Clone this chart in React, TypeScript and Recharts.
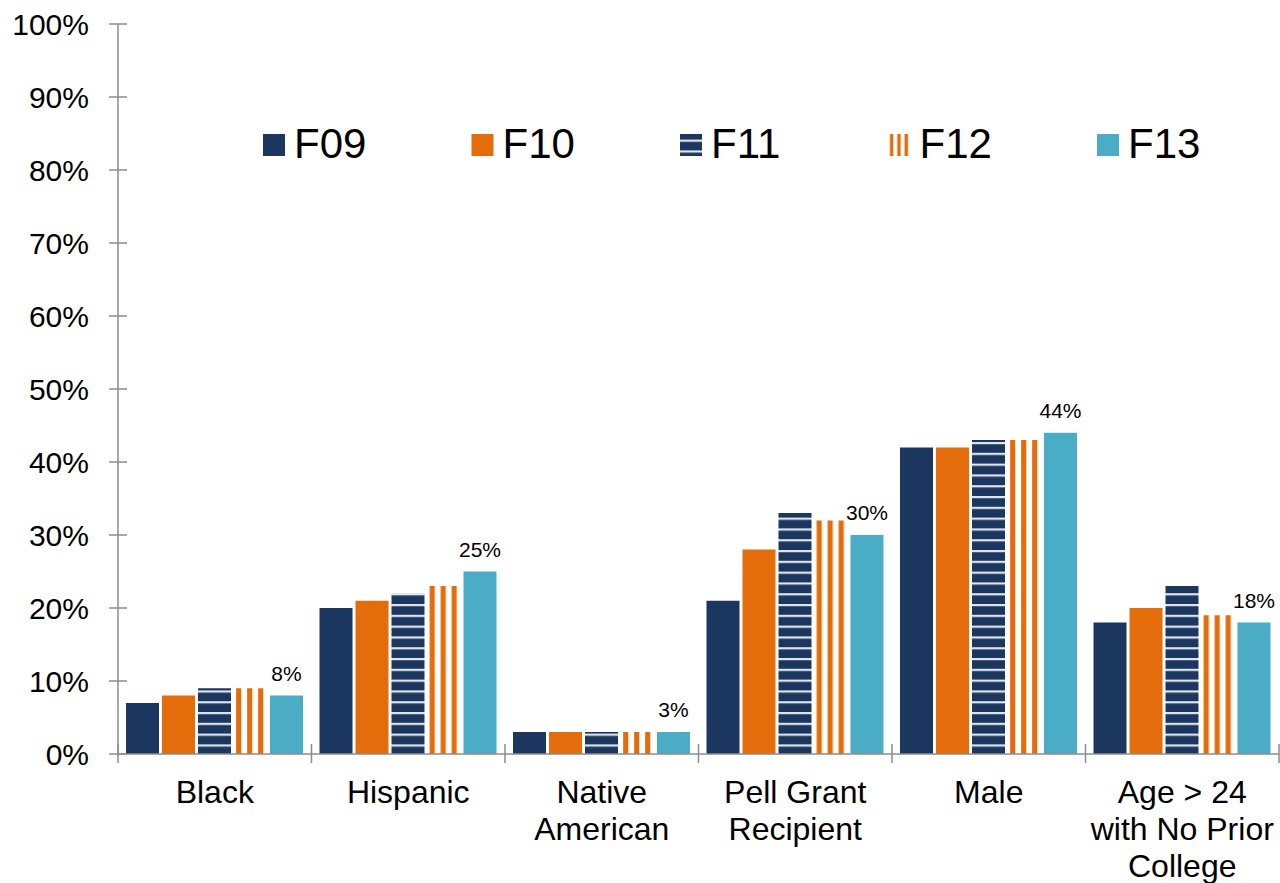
import React from 'react';
import { BarChart, Bar, XAxis, YAxis, LabelList } from 'recharts';

const categories = [
  'Black',
  'Hispanic',
  'Native\nAmerican',
  'Pell Grant\nRecipient',
  'Male',
  'Age > 24\nwith No Prior\nCollege',
];
const f09 = [7, 20, 3, 21, 42, 18];
const f10 = [8, 21, 3, 28, 42, 20];
const f11 = [9, 22, 3, 33, 43, 23];
const f12 = [9, 23, 3, 32, 43, 19];
const f13 = [8, 25, 3, 30, 44, 18];
const seriesNames = ['F09', 'F10', 'F11', 'F12', 'F13'];
const seriesKeys = ['f09', 'f10', 'f11', 'f12', 'f13'];
const yTicks = [0, 10, 20, 30, 40, 50, 60, 70, 80, 90, 100];

const data = categories.map((c, i) => ({
  category: c,
  f09: f09[i],
  f10: f10[i],
  f11: f11[i],
  f12: f12[i],
  f13: f13[i],
}));

const NAVY = '#1b375f';
const ORANGE = '#e46c0a';
const TEAL = '#4bacc6';
const AXIS = '#8c8c8c';
const FONT = '"Liberation Sans", Arial, Helvetica, sans-serif';

const W = 1280;
const H = 883;
const LEFT = 118;
const RIGHT_M = 1;
const BAND = (W - LEFT - RIGHT_M) / categories.length;

const fills = [NAVY, ORANGE, 'url(#hstripe)', 'url(#vstripe)', TEAL];
const legendFills = [NAVY, ORANGE, 'url(#lg-hstripe)', 'url(#lg-vstripe)', TEAL];

const PatternDefs = ({ prefix }: { prefix: string }) => (
  <defs>
    <pattern id={`${prefix}hstripe`} patternUnits="userSpaceOnUse" x={0} y={-0.8} width={20} height={10.8}>
      <rect x={0} y={0} width={20} height={10.8} fill={NAVY} />
      <rect x={0} y={0} width={20} height={2.2} fill="#dfe5ec" />
    </pattern>
    <pattern
      id={`${prefix}vstripe`}
      patternUnits="objectBoundingBox"
      patternContentUnits="objectBoundingBox"
      x={0}
      y={0}
      width={1 / 3}
      height={1}
    >
      <rect x={0} y={0} width={1 / 3} height={1} fill="#ffffff" />
      <rect x={0.065} y={0} width={0.155} height={1} fill={ORANGE} />
    </pattern>
  </defs>
);

const YTick = (props: any) => {
  const { x, y, payload } = props;
  return (
    <g>
      <line x1={x - 9} x2={x + 9} y1={y} y2={y} stroke={AXIS} strokeWidth={1.5} />
      <text x={x - 29} y={y} dy={10.5} textAnchor="end" fontSize={30} fill="#000" fontFamily={FONT}>
        {payload.value}%
      </text>
    </g>
  );
};

const XTick = (props: any) => {
  const { x, y, payload, index, visibleTicksCount } = props;
  const half = payload && payload.offset ? payload.offset : BAND / 2;
  const lines = String(payload.value).split('\n');
  return (
    <g>
      <line x1={x - half} x2={x - half} y1={y - 10} y2={y + 9} stroke={AXIS} strokeWidth={1.5} />
      {index === visibleTicksCount - 1 && (
        <line x1={x + half} x2={x + half} y1={y - 10} y2={y + 9} stroke={AXIS} strokeWidth={1.5} />
      )}
      <text x={x} y={y + 49} textAnchor="middle" fontSize={32} fill="#000" fontFamily={FONT}>
        {lines.map((l, i) => (
          <tspan key={i} x={x} dy={i === 0 ? 0 : 37}>
            {l}
          </tspan>
        ))}
      </text>
    </g>
  );
};

const Legend = () => (
  <svg width={W} height={200} style={{ position: 'absolute', left: 0, top: 0, pointerEvents: 'none' }}>
    <PatternDefs prefix="lg-" />
    {seriesNames.map((name, i) => {
      const sx = 263 + i * 208.5;
      return (
        <g key={name}>
          <rect x={sx} y={134} width={22} height={22} fill={legendFills[i]} />
          <text x={sx + 31} y={158} fontSize={42} fill="#000" fontFamily={FONT}>
            {name}
          </text>
        </g>
      );
    })}
  </svg>
);

export default function App() {
  return (
    <div style={{ position: 'absolute', left: 0, top: 0, width: W, height: H, background: '#fff' }}>
      <BarChart
        width={W}
        height={H}
        data={data}
        margin={{ top: 24, right: RIGHT_M, left: 0, bottom: 0 }}
        barSize={33}
        barGap={3}
        style={{ fontFamily: FONT }}
      >
        <PatternDefs prefix="" />
        <XAxis
          dataKey="category"
          interval={0}
          height={129}
          tickLine={false}
          tickSize={0}
          tickMargin={0}
          axisLine={{ stroke: AXIS, strokeWidth: 1.5 }}
          tick={<XTick />}
        />
        <YAxis
          width={LEFT}
          domain={[0, 100]}
          ticks={yTicks}
          interval={0}
          tickLine={false}
          tickSize={0}
          tickMargin={0}
          axisLine={{ stroke: AXIS, strokeWidth: 1.5 }}
          tick={<YTick />}
        />
        {seriesKeys.map((k, i) => (
          <Bar key={k} dataKey={k} name={seriesNames[i]} fill={fills[i]} isAnimationActive={false}>
            {k === 'f13' && (
              <LabelList
                dataKey={k}
                position="top"
                offset={15}
                formatter={(v: any) => `${v}%`}
                fontSize={21}
                fill="#000"
                fontFamily={FONT}
              />
            )}
          </Bar>
        ))}
      </BarChart>
      <Legend />
    </div>
  );
}
